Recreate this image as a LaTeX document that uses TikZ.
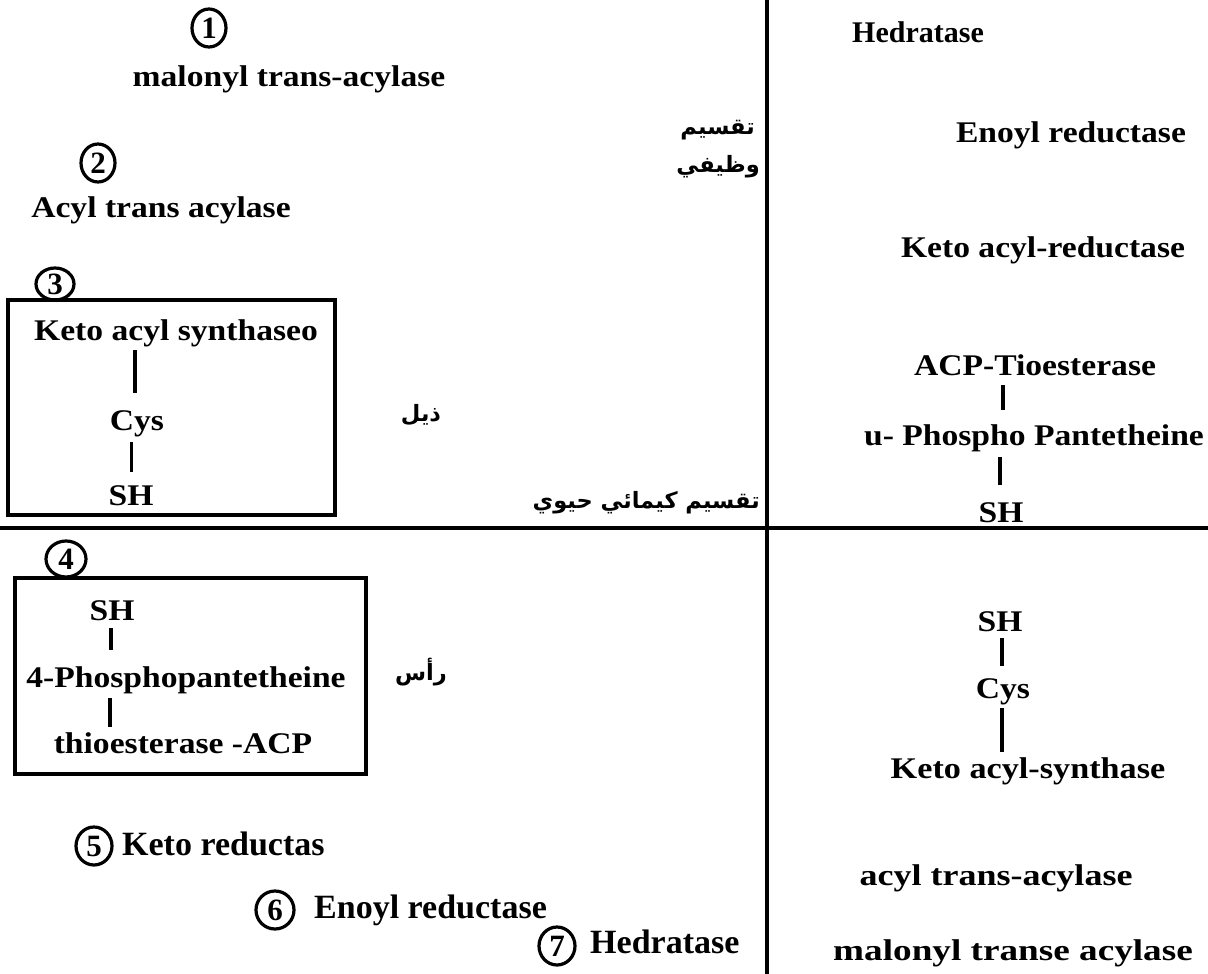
\documentclass[tikz,border=0pt]{standalone}
\usepackage{fontspec}
\usetikzlibrary{shapes.geometric}
\setmainfont{Liberation Serif}
\newfontfamily\arabicfont[Script=Arabic]{DejaVu Sans}
\TeXXeTstate=1
\newcommand{\wideT}[2][1.12]{\scalebox{#1}[1]{#2}}
\begin{document}
\begin{tikzpicture}[x=1pt,y=-1pt,
  lbl/.style={font=\fontsize{30}{34}\selectfont\bfseries, inner sep=0pt, anchor=base, text height=20pt, text depth=6pt},
  nar/.style={font=\fontsize{34}{38}\selectfont\bfseries, inner sep=0pt, anchor=base west},
  arb/.style={font=\arabicfont\fontsize{22.5}{26}\selectfont\bfseries, inner sep=0pt},
  num/.style={draw, line width=3.2pt, ellipse, minimum width=34pt, minimum height=38pt, inner sep=0pt, font=\fontsize{31}{34}\selectfont\bfseries},
  bond/.style={line width=3.5pt},
  frame/.style={draw, line width=3.5pt},
  axis/.style={line width=4pt}]
\useasboundingbox (0,0) rectangle (1208,974);
% axes
\coordinate (vt) at (766.5,0); \coordinate (vb) at (766.5,974);
\coordinate (hl) at (0,527.5); \coordinate (hr) at (1208,527.5);
\draw[axis] (vt) -- (vb);
\draw[axis] (hl) -- (hr);
% top-left
\node[num] (n1) at (209,28) {1};
\node[lbl] (t1) at (289,86) {\wideT{malonyl trans-acylase}};
\node[num] (n2) at (98,163) {2};
\node[lbl] (t2) at (161,217) {\wideT{Acyl trans acylase}};
\node[num, minimum height=32pt, minimum width=38pt] (n3) at (55,284) {3};
\draw[frame] (8,300) rectangle (335,515);
\node[lbl] (ka3) at (176,340) {\wideT{Keto acyl synthaseo}};
\node[lbl] (cys3) at (137,430) {\wideT{Cys}};
\node[lbl] (sh3) at (131,505) {\wideT{SH}};
\draw[bond, shorten <=4pt, shorten >=17pt] (ka3.south -| 135,0) -- (cys3.north -| 135,0);
\draw[bond, shorten <=6pt, shorten >=13pt] (cys3.south -| 131.5,0) -- (sh3.north -| 131.5,0);
\node[arb] (dhayl) at (421,415) {\beginR ذيل\endR};
\node[arb, anchor=east] (taq1) at (755,130) {\beginR تقسيم\endR};
\node[arb, anchor=east] (taq2) at (760,167) {\beginR وظيفي\endR};
\node[arb, anchor=east] (taqk) at (760,503) {\beginR تقسيم كيمائي حيوي\endR};
% top-right
\node[lbl] (r1) at (918,43) {\wideT[1.0]{Hedratase}};
\node[lbl] (r2) at (1071,142) {\wideT{Enoyl reductase}};
\node[lbl] (r3) at (1043,257) {\wideT{Keto acyl-reductase}};
\node[lbl] (r4) at (1035,375) {\wideT{ACP-Tioesterase}};
\node[lbl] (r5) at (1034,445) {\wideT{u- Phospho Pantetheine}};
\node[lbl] (r6) at (1001,522) {\wideT{SH}};
\draw[bond, shorten <=4pt, shorten >=15pt] (r4.south -| 1003,0) -- (r5.north -| 1003,0);
\draw[bond, shorten <=6pt, shorten >=17pt] (r5.south -| 1000,0) -- (r6.north -| 1000,0);
% bottom-left
\node[num, minimum height=36pt, minimum width=40pt] (n4) at (66,559) {4};
\draw[frame] (15,578) rectangle (366,774);
\node[lbl] (sh4) at (112,620) {\wideT{SH}};
\node[lbl] (pp4) at (186,687) {\wideT{4-Phosphopantetheine}};
\node[lbl] (te4) at (183,753) {\wideT{thioesterase -ACP}};
\draw[bond, shorten <=2pt, shorten >=17pt] (sh4.south -| 111,0) -- (pp4.north -| 111,0);
\draw[bond, shorten <=5pt, shorten >=6pt] (pp4.south -| 110,0) -- (te4.north -| 110,0);
\node[arb] (ras) at (421,672) {\beginR رأس\endR};
\node[num, minimum width=36pt] (n5) at (94,846) {5};
\node[nar] (t5) at (122,855) {Keto reductas};
\node[num, minimum width=38pt] (n6) at (275,910) {6};
\node[nar] (t6) at (314,918) {Enoyl reductase};
\node[num, minimum width=36pt] (n7) at (557,946) {7};
\node[nar] (t7) at (590,953) {Hedratase};
% bottom-right
\node[lbl] (b1) at (1000,631) {\wideT{SH}};
\node[lbl] (b2) at (1003,698) {\wideT{Cys}};
\node[lbl] (b3) at (1028,778) {\wideT[1.14]{Keto acyl-synthase}};
\draw[bond, shorten <=1pt, shorten >=12pt] (b1.south -| 1002,0) -- (b2.north -| 1002,0);
\draw[bond, shorten <=4pt, shorten >=6pt] (b2.south -| 1002,0) -- (b3.north -| 1002,0);
\node[lbl] (b4) at (996,885) {\wideT[1.2]{acyl trans-acylase}};
\node[lbl] (b5) at (1013,960) {\wideT[1.24]{malonyl transe acylase}};
\end{tikzpicture}
\end{document}
